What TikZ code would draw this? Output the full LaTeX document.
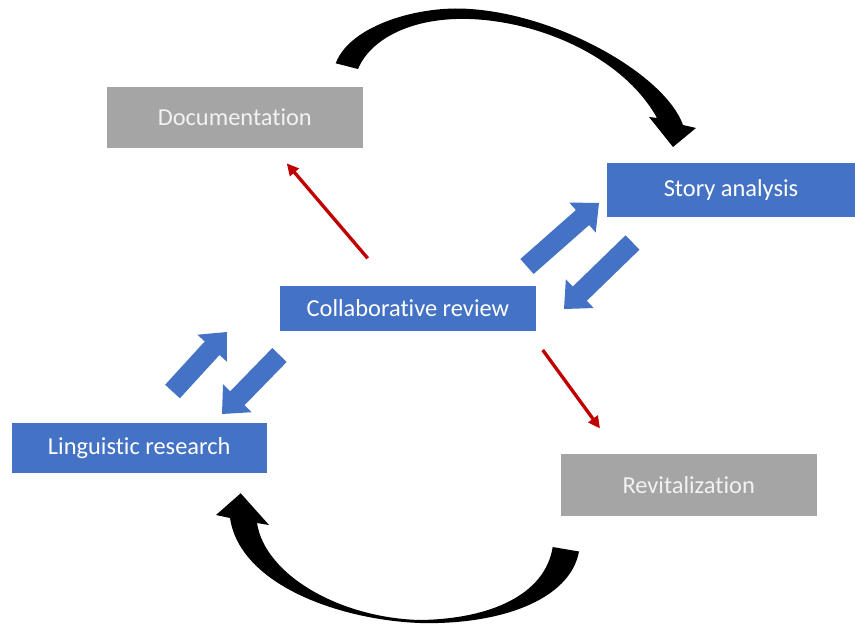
\documentclass[tikz,border=0pt]{standalone}
\usepackage{fontspec}
\setmainfont{Carlito}[Ligatures=NoCommon]
\usetikzlibrary{calc,arrows.meta}
\definecolor{boxblue}{HTML}{4472C4}
\definecolor{boxgray}{HTML}{A5A5A5}
\definecolor{arrowred}{HTML}{C00000}
\newcommand{\blockarrow}[3]{%
  \coordinate (#1t) at #2;
  \coordinate (#1h) at #3;
  \coordinate (#1n) at ($(#1h)!16.5pt!(#1t)$);
  \fill[boxblue] ($(#1t)!7.5pt!90:(#1h)$) -- ($(#1n)!7.5pt!90:(#1h)$) --
    ($(#1n)!15pt!90:(#1h)$) -- (#1h) -- ($(#1n)!15pt!-90:(#1h)$) --
    ($(#1n)!7.5pt!-90:(#1h)$) -- ($(#1t)!7.5pt!-90:(#1h)$) -- cycle;}
\tikzset{
  boxbase/.style={inner sep=0pt, font=\fontsize{18.3}{22}\selectfont},
  bluebox/.style={boxbase, fill=boxblue, text=white},
  graybox/.style={boxbase, fill=boxgray, text=white!95!black},
  redarrow/.style={arrowred, line width=2.5pt, -{Triangle[length=9pt,width=8.5pt]}},
}
\begin{document}
\begin{tikzpicture}[x=0.75pt,y=-0.75pt]
\useasboundingbox (0,0) rectangle (855,627);
\fill[white] (0,0) rectangle (855,627);

\node[graybox, minimum width=191.8pt, minimum height=46.2pt] (doc) at (234.8,117.5) {Documentation};
\node[bluebox, minimum width=186pt, minimum height=40.5pt] (story) at (731,190) {Story analysis};
\node[bluebox, minimum width=191.8pt, minimum height=33.75pt] (collab) at (407.85,308.5) {Collaborative review};
\node[bluebox, minimum width=191.25pt, minimum height=37.5pt] (ling) at (139.2,447.7) {Linguistic research};
\node[graybox, minimum width=192pt, minimum height=46.5pt] (revit) at (688.7,485) {Revitalization};

% red arrows
\coordinate (r1s) at (367.7,258.3);
\coordinate (r1e) at (286.7,163.3);
\coordinate (r2s) at (542.7,350);
\coordinate (r2e) at (600,428.5);
\draw[redarrow] (r1s) -- (r1e);
\draw[redarrow] (r2s) -- (r2e);

% blue block arrows
\blockarrow{a}{(527,266.5)}{(599,203)}
\blockarrow{b}{(632.5,242.5)}{(564,309)}
\blockarrow{c}{(172.5,391.5)}{(227,332)}
\blockarrow{d}{(279.5,355)}{(222,414)}

% top curved arrow
\fill[black] (335.7,63.3) .. controls (350,25) and (420,5) .. (470,9)
  .. controls (560,15) and (665,75) .. (683,125) -- (696,128) -- (673,147) -- (649,117) -- (657,118)
  .. controls (625,60) and (545,22) .. (470,19)
  .. controls (410,17) and (370,40) .. (358,69) -- cycle;

% bottom curved arrow
\fill[black] (552.7,547) -- (579,551.5) .. controls (570,600) and (500,625) .. (420,623)
  .. controls (340,620) and (240,585) .. (230,518) -- (216,515) -- (240.7,493.3) -- (269,525) -- (257,523)
  .. controls (265,575) and (340,618) .. (420,620)
  .. controls (490,619) and (545,595) .. (552.7,547) -- cycle;
\end{tikzpicture}
\end{document}
